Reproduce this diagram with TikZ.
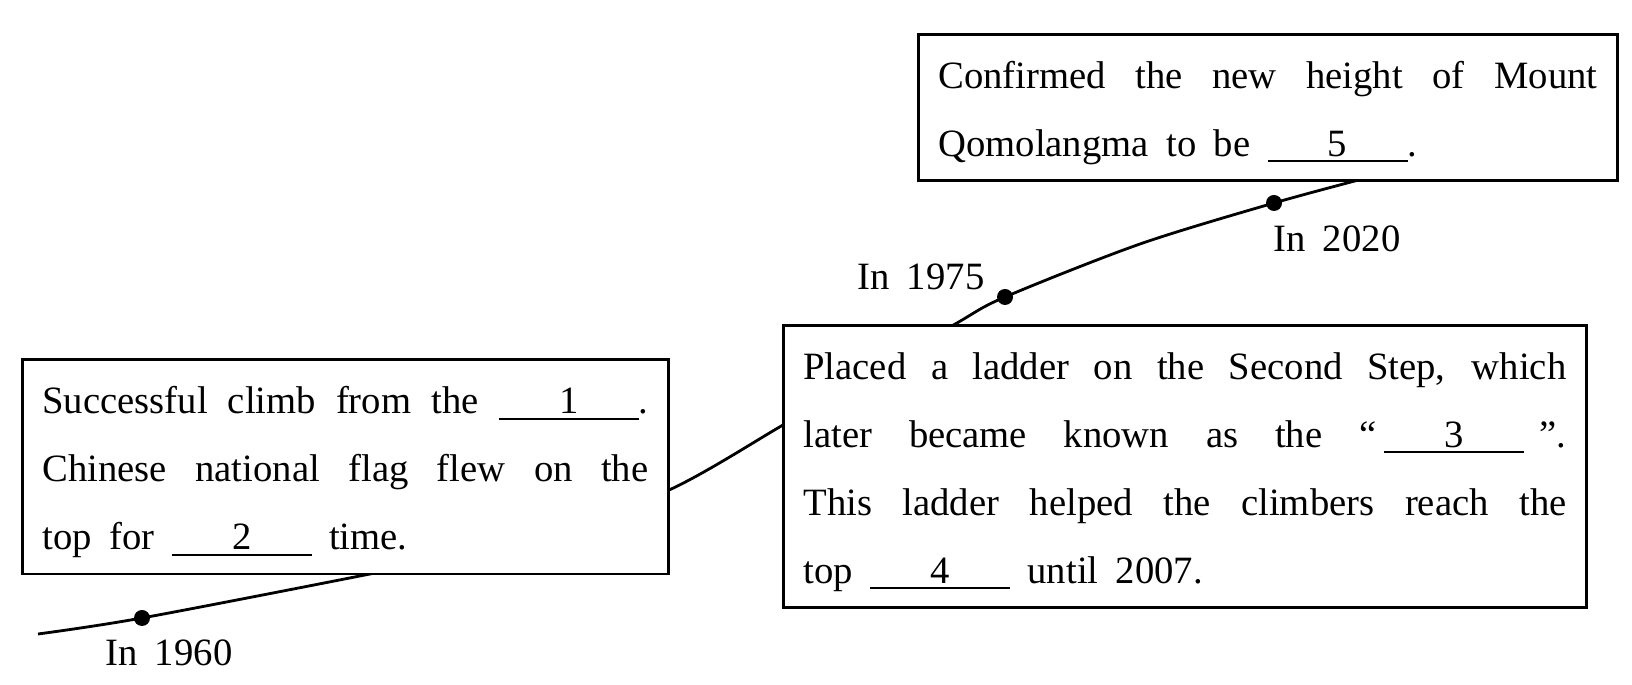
\documentclass[tikz,border=0pt]{standalone}
\usepackage{fontspec}
\setmainfont{Liberation Serif}[WordSpace=1.8]

% gap for an answer, number over a line
\newcommand{\blank}[1]{\rlap{\rule[-0.15em]{1.4cm}{0.6pt}}\makebox[1.4cm]{#1}}
% struts for first and last line of a box
\newcommand{\topgap}{\rule{0pt}{0.54cm}}
\newcommand{\botgap}{\rule[-0.24cm]{0pt}{0.24cm}}
% wide word spaces, as in the print
\newcommand{\wordgap}{\spaceskip=0.45em plus 0.2em minus 0.1em\relax}
% one line spread to the full width
\newcommand{\fullline}[1]{{\spaceskip=0.45em plus 1fil\relax
  \makebox[\hsize][s]{#1}}}

\begin{document}
\begin{tikzpicture}[line width=0.8pt,
  every node/.style={font=\fontsize{11}{19.36}\selectfont},
  eventbox/.style={draw, fill=white, anchor=north west,
    inner xsep=0.2cm, inner ysep=0pt},
  year/.style={anchor=base west, inner sep=0pt}]
  \useasboundingbox (0,0) rectangle (16.32,6.85);

  % dates on the line
  \coordinate (d1960) at (1.42,0.67);
  \coordinate (d1975) at (10.05,3.88);
  \coordinate (d2020) at (12.74,4.82);

  % time line, runs behind the boxes
  \draw plot[smooth] coordinates {(0.38,0.51) (d1960) (3.75,1.12) (5.21,1.42)
    (6.67,1.94) (7.83,2.60) (8.70,3.11) (9.57,3.62) (d1975) (11.40,4.41)
    (d2020) (13.70,5.08)};

  % boxes
  \node[eventbox, text width=6.06cm] (climb) at (0.21,3.265) {\wordgap
    \fullline{\topgap Successful climb from the \blank{1}.}\\
    \fullline{Chinese national flag flew on the}\\
    top for \blank{2} time.\botgap};
  \node[eventbox, text width=7.63cm] (ladder) at (7.82,3.61) {\wordgap
    \fullline{\topgap Placed a ladder on the Second Step, which}\\
    \fullline{later became known as the “\hspace{0.2em}\blank{3}\hspace{0.4em}”.}\\
    \fullline{This ladder helped the climbers reach the}\\
    top \blank{4} until 2007.\botgap};
  \node[eventbox, text width=6.59cm] (height) at (9.17,6.52) {\wordgap
    \fullline{\topgap Confirmed the new height of Mount}\\
    Qomolangma to be \blank{5}.\botgap};

  % points
  \foreach \d in {d1960,d1975,d2020}
    \fill (\d) circle (0.08);

  % years
  \node[year] (y1960) at (1.04,0.19) {In 1960};
  \node[year] (y1975) at (8.56,3.95) {In 1975};
  \node[year] (y2020) at (12.72,4.33) {In 2020};
\end{tikzpicture}
\end{document}
